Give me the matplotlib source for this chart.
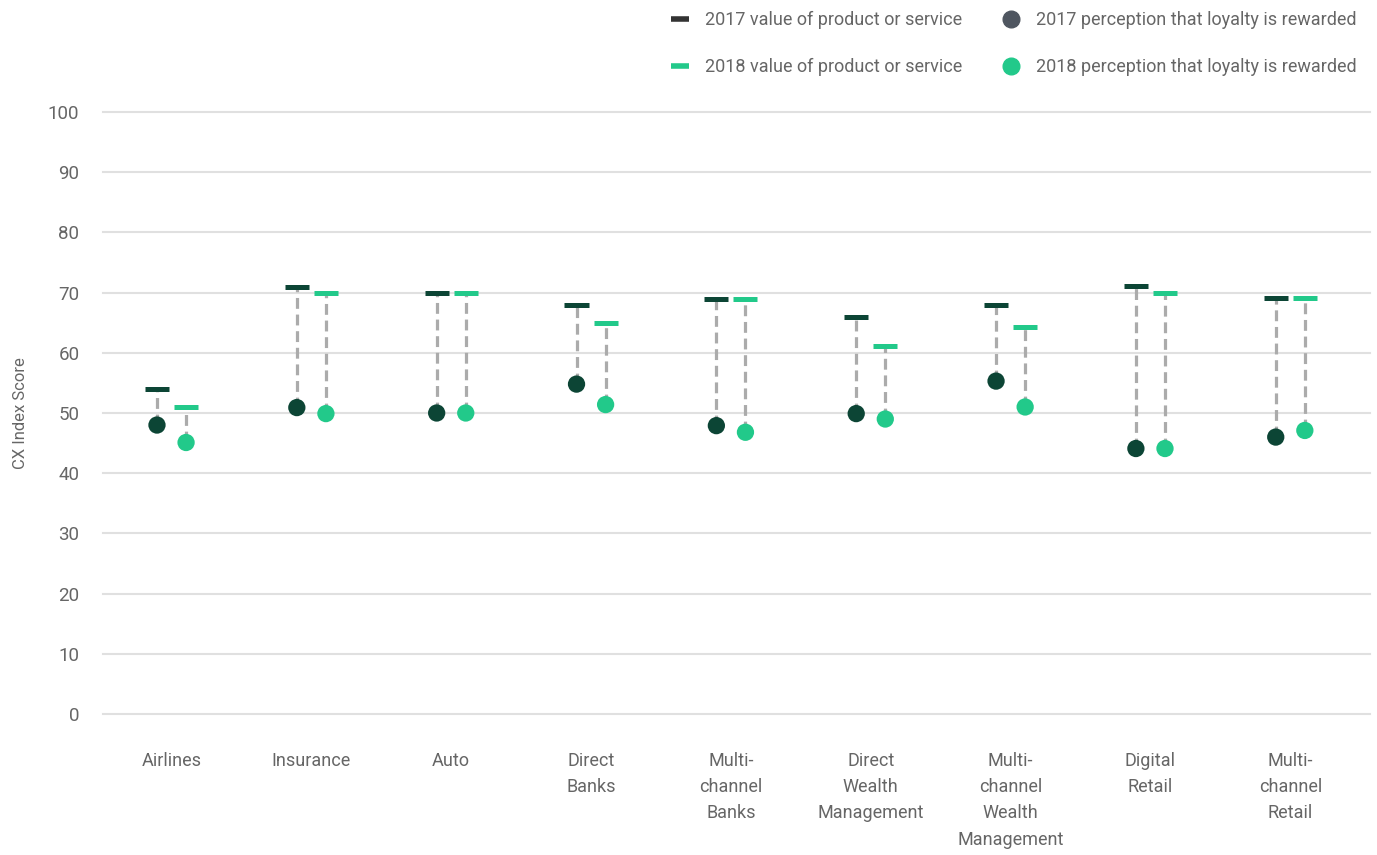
import matplotlib
matplotlib.use("Agg")
import matplotlib.pyplot as plt
from matplotlib.lines import Line2D
import numpy as np

plt.rcParams['font.family'] = ['Roboto', 'DejaVu Sans']

categories = ["Airlines", "Insurance", "Auto", "Direct\nBanks", "Multi-\nchannel\nBanks",
              "Direct\nWealth\nManagement", "Multi-\nchannel\nWealth\nManagement",
              "Digital\nRetail", "Multi-\nchannel\nRetail"]
value_2017 = [54.0, 71.0, 70.0, 68.0, 68.9, 65.9, 68.0, 71.1, 69.1]
value_2018 = [51.0, 70.0, 70.0, 65.0, 68.9, 61.1, 64.3, 70.0, 69.1]
loyalty_2017 = [48.0, 50.9, 50.0, 54.8, 47.9, 49.9, 55.3, 44.1, 46.0]
loyalty_2018 = [45.1, 49.9, 50.0, 51.4, 46.8, 49.0, 51.0, 44.1, 47.1]

dark = "#0c4535"
light = "#22c98a"
dash_gray = "#ababab"
text_gray = "#666666"

fig = plt.figure(figsize=(13.77, 8.55), dpi=100)
ax = fig.add_axes([103 / 1377, 141 / 855, (1370 - 103) / 1377, 602 / 855])

x = np.arange(len(categories))
off = 0.104
half = 0.086

for xs, vals, dots, col in [(x - off, value_2017, loyalty_2017, dark),
                            (x + off, value_2018, loyalty_2018, light)]:
    ax.vlines(xs, dots, vals, colors=dash_gray, linewidth=2.3,
              linestyles=(0, (3.4, 1.8)), zorder=2)
    ax.hlines(vals, xs - half, xs + half, colors=col, linewidth=3.6, zorder=3)
    ax.scatter(xs, dots, s=155, color=col, zorder=4, edgecolors='none')

ax.set_xlim(-0.49, 8.57)
ax.set_ylim(0, 100)
ax.set_yticks(range(0, 101, 10))
ax.grid(axis='y', color='#e0e0e0', linewidth=1.5, zorder=0)
ax.set_axisbelow(True)
for s in ax.spines.values():
    s.set_visible(False)
for gl in ax.get_ygridlines():
    gl.set_clip_on(False)

ax.set_xticks(x)
ax.set_xticklabels(categories, fontsize=13, color=text_gray, linespacing=1.6,
                   va='top')
ax.tick_params(axis='both', length=0, colors=text_gray)
ax.tick_params(axis='y', labelsize=13.5, pad=17)
ax.tick_params(axis='x', pad=27)
ax.set_ylabel("CX Index Score", fontsize=12, color=text_gray, labelpad=14)

handles = [
    Line2D([], [], color='#333333', linewidth=4, solid_capstyle='butt'),
    Line2D([], [], color=light, linewidth=4, solid_capstyle='butt'),
    Line2D([], [], marker='o', linestyle='none', color='#4f5660', markersize=12),
    Line2D([], [], marker='o', linestyle='none', color=light, markersize=12),
]
labels = ["2017 value of product or service", "2018 value of product or service",
          "2017 perception that loyalty is rewarded", "2018 perception that loyalty is rewarded"]
leg = fig.legend(handles, labels, ncol=2, loc='upper right', bbox_to_anchor=(1373 / 1377, 1.006),
                 frameon=False, fontsize=13, labelspacing=1.6, handlelength=1.0,
                 handletextpad=0.9, columnspacing=2.2, labelcolor=text_gray)

fig.savefig("out.png", dpi=100)
